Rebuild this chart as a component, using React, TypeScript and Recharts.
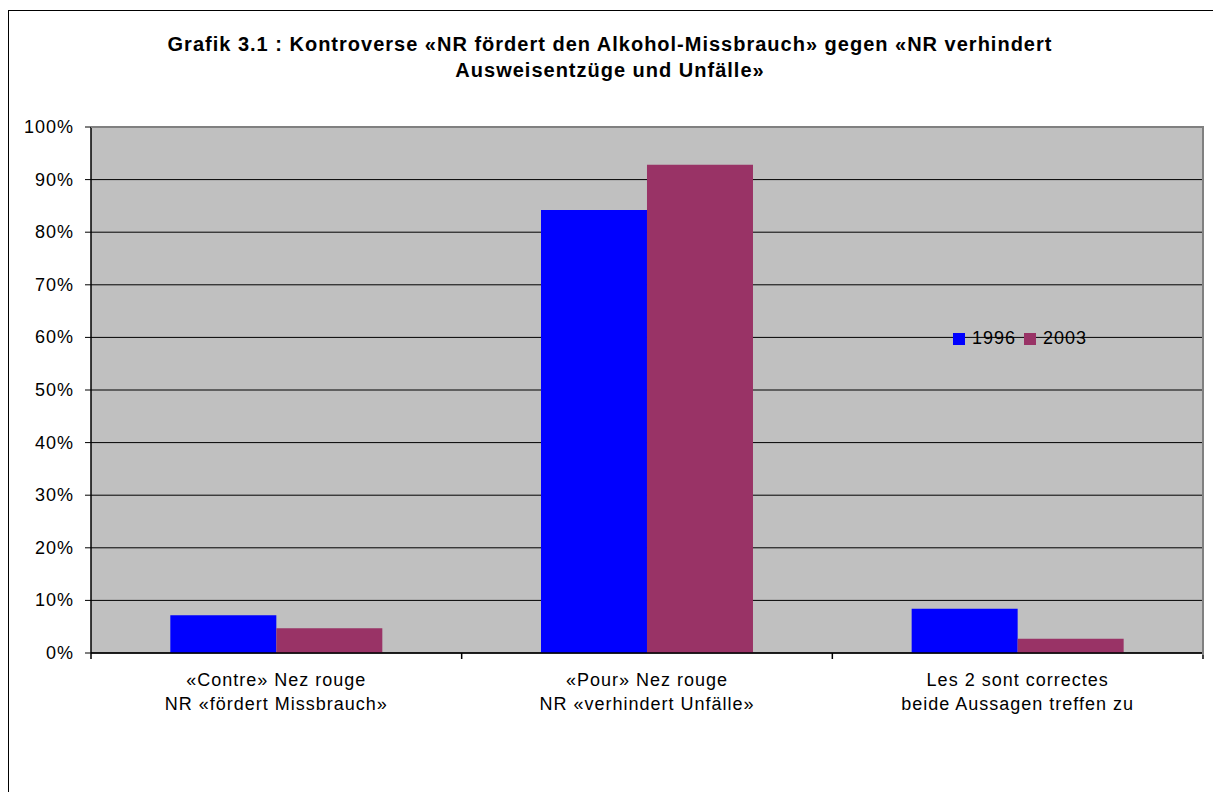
import React from 'react';
import { BarChart, Bar, XAxis, YAxis, CartesianGrid, Legend } from 'recharts';

const labelTop = ['«Contre» Nez rouge', '«Pour» Nez rouge', 'Les 2 sont correctes'];
const labelBottom = ['NR «fördert Missbrauch»', 'NR «verhindert Unfälle»', 'beide Aussagen treffen zu'];
const values1996 = [7.2, 84.2, 8.4];
const values2003 = [4.7, 92.8, 2.7];
const yTicks = [0, 10, 20, 30, 40, 50, 60, 70, 80, 90, 100];
const seriesNames = ['1996', '2003'];
const COLORS = ['#0000FF', '#993366'];

const FONT = '"Liberation Sans", Arial, sans-serif';

const data = labelTop.map((name, i) => ({
  name,
  sub: labelBottom[i],
  y1996: values1996[i],
  y2003: values2003[i],
}));

function XTick(props: any) {
  const { x, y, payload, index } = props;
  const half = payload && payload.offset ? payload.offset : 185.3;
  const row = data[index] || data.find(d => d.name === payload.value);
  return (
    <g>
      <line x1={x - half} x2={x - half} y1={y} y2={y + 6} stroke="#000" strokeWidth={1.5} />
      {index === data.length - 1 && (
        <line x1={x + half} x2={x + half} y1={y} y2={y + 6} stroke="#000" strokeWidth={1.5} />
      )}
      <text x={x} y={y + 33} textAnchor="middle" fontSize={18} letterSpacing={1} fill="#000" fontFamily={FONT}>
        {row ? row.name : payload.value}
      </text>
      <text x={x} y={y + 57} textAnchor="middle" fontSize={18} letterSpacing={1} fill="#000" fontFamily={FONT}>
        {row ? row.sub : ''}
      </text>
    </g>
  );
}

function YTick(props: any) {
  const { x, y, payload } = props;
  return (
    <text x={x} y={y + 6} textAnchor="end" fontSize={18} letterSpacing={1} fill="#000" fontFamily={FONT}>
      {`${payload.value}%`}
    </text>
  );
}

function LegendContent() {
  return (
    <div style={{ display: 'flex', alignItems: 'center', fontFamily: FONT, fontSize: 18, letterSpacing: 1, color: '#000' }}>
      {seriesNames.map((s, i) => (
        <span key={s} style={{ display: 'flex', alignItems: 'center', marginRight: 8 }}>
          <span style={{ width: 12, height: 12, background: COLORS[i], display: 'inline-block', marginRight: 7 }} />
          {s}
        </span>
      ))}
    </div>
  );
}

export default function App() {
  return (
    <div style={{ position: 'absolute', left: 0, top: 0, width: 1213, height: 792, background: '#fff', overflow: 'hidden' }}>
      <div style={{ position: 'absolute', left: 8, top: 10, width: 1220, height: 800, border: '1px solid #000' }} />
      <div
        style={{
          position: 'absolute', left: 8, top: 31, width: 1204, textAlign: 'center',
          fontFamily: FONT, fontWeight: 'bold', fontSize: 20, letterSpacing: 1, lineHeight: '26px', color: '#000',
        }}
      >
        Grafik 3.1 : Kontroverse «NR fördert den Alkohol-Missbrauch» gegen «NR verhindert
        <br />
        Ausweisentzüge und Unfälle»
      </div>
      <div style={{ position: 'absolute', left: 0, top: 0 }}>
        <BarChart
          width={1213}
          height={792}
          data={data}
          margin={{ top: 127, right: 10, bottom: 79, left: 31 }}
          barCategoryGap="21.4%"
          barGap={0}
        >
          <CartesianGrid vertical={false} stroke="#000" fill="#C0C0C0" fillOpacity={1} />
          <XAxis
            dataKey="name"
            height={60}
            tick={<XTick />}
            tickLine={false}
            tickSize={0}
            tickMargin={0}
            axisLine={{ stroke: '#000', strokeWidth: 1.5 }}
            interval={0}
          />
          <YAxis
            width={60}
            domain={[0, 100]}
            ticks={yTicks}
            tick={<YTick />}
            tickSize={6}
            tickMargin={11}
            tickLine={{ stroke: '#000' }}
            axisLine={{ stroke: '#000', strokeWidth: 1.5 }}
            interval={0}
          />
          <Legend
            layout="horizontal"
            verticalAlign="middle"
            align="center"
            content={<LegendContent />}
            wrapperStyle={{ left: 953, top: 328, width: 'auto' }}
          />
          <Bar dataKey="y1996" name={seriesNames[0]} fill={COLORS[0]} isAnimationActive={false} />
          <Bar dataKey="y2003" name={seriesNames[1]} fill={COLORS[1]} isAnimationActive={false} />
        </BarChart>
      </div>
      <div
        style={{
          position: 'absolute', left: 91, top: 126, width: 1111, height: 527,
          borderTop: '2px solid #808080', borderRight: '2px solid #808080', pointerEvents: 'none',
        }}
      />
    </div>
  );
}
